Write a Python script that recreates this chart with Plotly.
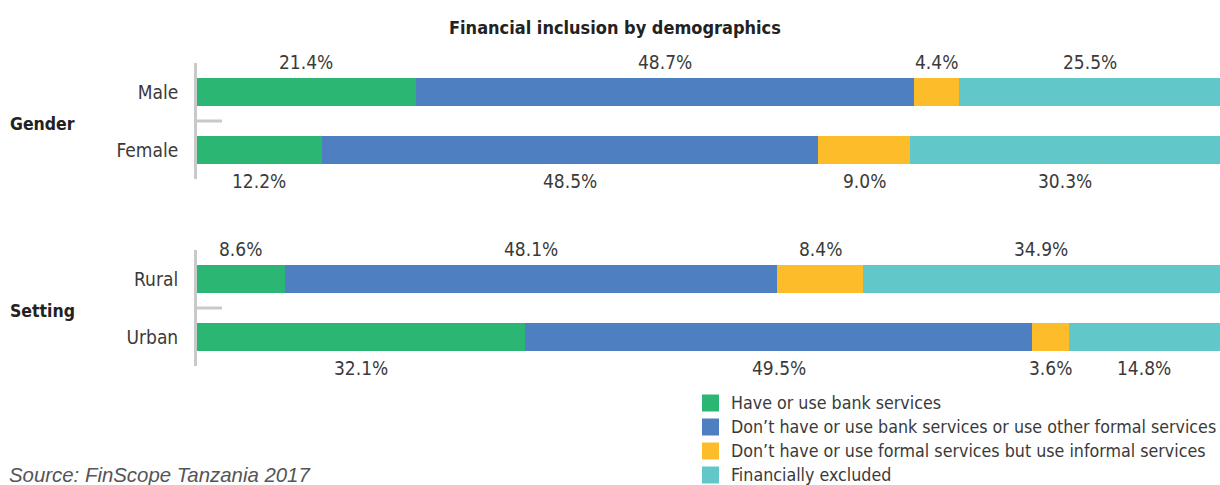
import plotly.graph_objects as go

# ---- data -------------------------------------------------------------
title_text = "Financial inclusion by demographics"
source_text = "Source: FinScope Tanzania 2017"

gender_rows = ["Male", "Female"]
setting_rows = ["Rural", "Urban"]
group_names = ["Gender", "Setting"]

series_names = [
    "Have or use bank services",
    "Don’t have or use bank services or use other formal services",
    "Don’t have or use formal services but use informal services",
    "Financially excluded",
]
series_colors = ["#2bb673", "#4e7fc1", "#fdbd2b", "#62c7c8"]

# percentages per row, one list per series
bank_gender = [21.4, 12.2]
other_formal_gender = [48.7, 48.5]
informal_gender = [4.4, 9.0]
excluded_gender = [25.5, 30.3]

bank_setting = [8.6, 32.1]
other_formal_setting = [48.1, 49.5]
informal_setting = [8.4, 3.6]
excluded_setting = [34.9, 14.8]

# ---- styling ----------------------------------------------------------
W, H = 1220, 485
M_L = 197
PLOT_W = W - M_L
NARROW = "Liberation Sans Narrow, DejaVu Sans Condensed, Arial Narrow, Roboto, sans-serif"
TEXT_COLOR = "#3a3a3a"
AXIS_GREY = "#c9c9c9"


def py(px):
    """pixel row -> paper y"""
    return (H - px) / H


def pxx(px):
    """pixel column -> paper x (relative to plot area)"""
    return (px - M_L) / PLOT_W


groups = [
    ("y", gender_rows, [bank_gender, other_formal_gender, informal_gender, excluded_gender]),
    ("y2", setting_rows, [bank_setting, other_formal_setting, informal_setting, excluded_setting]),
]

fig = go.Figure()
annotations = []
shapes = []

for yref, rows, series in groups:
    for name, color, vals in zip(series_names, series_colors, series):
        fig.add_trace(go.Bar(
            x=vals, y=rows, orientation="h", name=name,
            marker=dict(color=color, line=dict(width=0)),
            width=0.483, yaxis=yref, xaxis="x", showlegend=False,
            hoverinfo="skip",
        ))
    # value labels centred over each segment: above the first row, below the second
    for r, row in enumerate(rows):
        start = 0.0
        for vals in series:
            v = vals[r]
            annotations.append(dict(
                x=start + v / 2, y=row, xref="x", yref=yref,
                text=f"{v:.1f}%", showarrow=False,
                yshift=30 if r == 0 else -31,
                font=dict(family=NARROW, size=19, color=TEXT_COLOR),
            ))
            start += v
    # short divider tick between the two rows of a group
    shapes.append(dict(
        type="line", xref="paper", yref=yref,
        x0=0, x1=pxx(222), y0=0.5, y1=0.5,
        line=dict(color=AXIS_GREY, width=3),
    ))

# group headings
for yref, name in zip(["y", "y2"], group_names):
    annotations.append(dict(
        x=pxx(8), y=0.5, xref="paper", yref=yref, xanchor="left",
        yanchor="middle", text=f"<b>{name}</b>", showarrow=False, yshift=-3,
        font=dict(family=NARROW, size=17.5, color="#222222"),
    ))

# title
annotations.append(dict(
    x=pxx(615), y=py(27), xref="paper", yref="paper",
    xanchor="center", yanchor="middle",
    text=f"<b>{title_text}</b>", showarrow=False,
    font=dict(family=NARROW, size=18, color="#222222"),
))

# legend: colour swatch + label per series
for i, (name, color) in enumerate(zip(series_names, series_colors)):
    cy = 403 + 24 * i
    shapes.append(dict(
        type="rect", xref="paper", yref="paper",
        x0=pxx(702), x1=pxx(719), y0=py(cy + 8.5), y1=py(cy - 8.5),
        fillcolor=color, line=dict(width=0),
    ))
    annotations.append(dict(
        x=pxx(729), y=py(cy), xref="paper", yref="paper",
        xanchor="left", yanchor="middle", text=name, showarrow=False,
        font=dict(family=NARROW, size=17.7, color=TEXT_COLOR),
    ))

# source note
annotations.append(dict(
    x=pxx(7), y=py(475), xref="paper", yref="paper",
    xanchor="left", yanchor="middle", text=source_text, showarrow=False,
    font=dict(family="Liberation Sans, Arial, sans-serif", size=20.4,
              color="#555555", style="italic"),
))

yaxis_common = dict(
    type="category", showline=True, linecolor=AXIS_GREY, linewidth=3,
    ticks="", showgrid=False, zeroline=False, fixedrange=True,
    ticklabelstandoff=12,
    tickfont=dict(family=NARROW, size=19, color=TEXT_COLOR),
)

fig.update_layout(
    width=W, height=H,
    margin=dict(l=M_L, r=0, t=0, b=0),
    paper_bgcolor="white", plot_bgcolor="white",
    barmode="stack", bargap=0,
    xaxis=dict(range=[0, 100], visible=False, domain=[0, 1], anchor="y", fixedrange=True),
    yaxis=dict(**yaxis_common, categoryarray=gender_rows, range=[1.5, -0.5],
               domain=[py(179), py(63)], anchor="x"),
    yaxis2=dict(**yaxis_common, categoryarray=setting_rows, range=[1.5, -0.5],
                domain=[py(366), py(250)], anchor="x"),
    annotations=annotations,
    shapes=shapes,
    showlegend=False,
)

fig.write_html("out.html")
